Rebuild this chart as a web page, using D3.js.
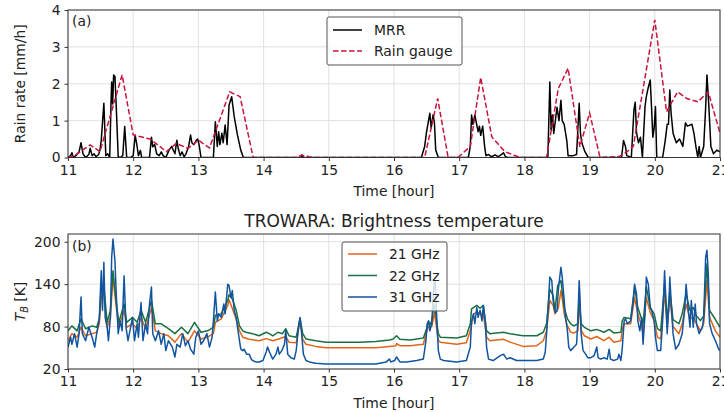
<!DOCTYPE html>
<html>
<head>
<meta charset="utf-8">
<script src="https://cdn.jsdelivr.net/npm/d3@7"></script>
<style>
  html, body { margin: 0; padding: 0; background: #fff; }
  svg text { font-family: "DejaVu Sans", sans-serif; fill: #222; }
</style>
</head>
<body>
<svg id="chart" width="724" height="412"></svg>
<script>
// Rain rate [mm/h] vs time [hour]
const mrrRate = [
  [11.00,0],[11.04,0.05],[11.06,0.13],[11.08,0],[11.12,0.05],[11.17,0.15],[11.20,0.4],[11.23,0.1],[11.27,0],
  [11.32,0.08],[11.34,0.25],[11.37,0.05],[11.40,0.1],[11.43,0.02],[11.47,0.08],[11.49,0.2],[11.51,0.47],
  [11.55,1.47],[11.58,0.05],[11.61,0.1],[11.64,0],[11.66,1.5],[11.67,2.05],[11.685,1.45],[11.70,2.24],
  [11.72,2.2],[11.74,1.38],[11.77,0.02],[11.80,0],[11.84,0.05],[11.87,0.84],[11.90,0],[11.96,0],[12.00,0.05],
  [12.03,0.61],[12.06,0.3],[12.08,0.05],[12.11,0.19],[12.13,0],[12.25,0],[12.28,0.55],[12.30,0.29],[12.33,0.35],
  [12.36,0.1],[12.40,0.05],[12.43,0.15],[12.46,0.05],[12.50,0],[12.55,0.2],[12.59,0.3],[12.64,0.1],[12.67,0.47],
  [12.69,0.25],[12.72,0.05],[12.75,0.15],[12.78,0.02],[12.81,0.1],[12.85,0.3],[12.88,0.61],[12.90,0.4],
  [12.93,0.35],[12.97,0.47],[12.99,0.5],[13.01,0.35],[13.04,0],[13.23,0],[13.26,0.97],[13.29,0.3],[13.31,0.7],
  [13.33,0.35],[13.36,0.66],[13.38,0.4],[13.41,0.88],[13.44,0.35],[13.47,1.42],[13.51,1.65],[13.55,1.1],
  [13.60,0.6],[13.65,0.2],[13.69,0],[14.57,0],[14.59,0.07],[14.61,0],[16.42,0],[16.47,0.3],[16.50,0.7],
  [16.55,1.2],[16.57,0.8],[16.60,1.16],[16.62,0.94],[16.64,0.2],[16.68,0],[17.14,0],[17.17,0.3],[17.19,1.15],
  [17.21,0.9],[17.24,1.15],[17.26,0.97],[17.29,0.7],[17.31,0.85],[17.33,0.6],[17.36,0.85],[17.39,0.3],
  [17.41,0.05],[17.45,0.08],[17.50,0.02],[17.55,0.07],[17.60,0.02],[17.66,0.1],[17.68,0.13],[17.71,0.02],
  [17.75,0],[18.36,0],[18.39,2.05],[18.41,0.75],[18.43,1.15],[18.45,0.65],[18.50,1.36],[18.53,1.0],[18.56,1.55],
  [18.58,1.0],[18.61,0.9],[18.65,0.46],[18.67,0.05],[18.75,0.05],[18.80,0.08],[18.84,1.47],[18.86,0.66],
  [18.88,0.4],[18.93,0.15],[18.98,0],[19.49,0],[19.52,0.46],[19.55,0.3],[19.57,0.05],[19.64,0],[19.68,1.29],
  [19.70,1.5],[19.72,0.66],[19.75,0.4],[19.78,0.55],[19.81,0],[19.85,1.38],[19.87,1.65],[19.90,1.9],[19.93,2.1],
  [19.95,1.36],[19.97,0.55],[19.99,0.8],[20.01,1.38],[20.03,0],[20.12,0],[20.16,0.46],[20.19,0.9],[20.21,0.9],
  [20.23,1.83],[20.25,1.2],[20.28,0.66],[20.33,0.4],[20.38,0.5],[20.43,0.3],[20.47,0.94],[20.50,0.85],
  [20.57,0.9],[20.60,0.66],[20.63,0.3],[20.66,0],[20.68,0.3],[20.70,0],[20.75,0.3],[20.78,1.36],[20.80,2.24],
  [20.83,1.36],[20.86,0.3],[20.90,0.1],[20.95,0.2],[21.00,0.15]
];

const gaugeRate = [
  [11.00,0],[11.10,0.05],[11.34,0.34],[11.49,0.16],[11.83,2.24],[12.00,0.61],[12.26,0.5],[12.51,0.16],
  [12.66,0.38],[12.84,0.25],[13.00,0.47],[13.17,0.26],[13.48,1.78],[13.64,1.65],[13.84,0],[14.50,0],
  [14.58,0.06],[14.66,0.04],[14.72,0.01],[14.80,0],[16.47,0],[16.67,1.6],[16.83,0],[16.98,0],[17.17,0.3],
  [17.33,2.17],[17.50,0.56],[17.70,0.16],[17.93,0],[18.34,0],[18.52,1.87],[18.67,2.42],[18.85,0.29],
  [19.00,1.21],[19.16,0],[19.46,0.03],[19.57,0.15],[19.67,0.3],[20.00,3.73],[20.18,1.24],[20.35,1.78],
  [20.49,1.6],[20.66,1.51],[20.82,1.78],[21.00,0.66]
];

// Brightness temperature [K] vs time [hour]
const tb21 = [
  [11.00,60],[11.06,70],[11.14,65],[11.20,79],[11.27,67],[11.37,70],[11.44,72],[11.48,84],[11.51,122],
  [11.55,126],[11.60,79],[11.65,93],[11.69,150],[11.74,107],[11.78,79],[11.86,103],[11.90,79],[11.99,84],
  [12.06,77],[12.12,93],[12.19,77],[12.28,107],[12.34,74],[12.43,70],[12.54,67],[12.64,58],[12.74,70],
  [12.84,58],[12.94,74],[13.04,62.5],[13.14,65],[13.23,70],[13.26,86],[13.35,91],[13.45,110],[13.47,118],
  [13.52,106],[13.58,90],[13.63,74],[13.68,65],[13.78,62],[13.93,60],[14.04,63],[14.14,60],[14.22,62],
  [14.34,66],[14.39,58],[14.50,57],[14.56,88],[14.60,62],[14.65,55],[14.80,52],[14.96,50],[15.21,50],
  [15.47,50],[15.72,50],[15.93,52],[16.03,53],[16.04,56],[16.09,53],[16.25,53],[16.45,55],[16.49,70],
  [16.53,80],[16.58,80],[16.62,100],[16.65,80],[16.68,60],[16.71,58],[16.96,55],[17.11,57],[17.17,74],
  [17.22,98],[17.27,100],[17.37,98],[17.42,65],[17.47,60],[17.57,61],[17.68,62],[17.78,58],[17.98,52],
  [18.19,53],[18.29,60],[18.34,74],[18.39,117],[18.44,110],[18.47,98],[18.52,106],[18.56,131],[18.58,120],
  [18.61,98],[18.66,81],[18.71,72],[18.76,71],[18.82,74],[18.84,117],[18.87,75],[18.92,67],[19.02,62.5],
  [19.11,66],[19.22,60],[19.30,65],[19.37,58],[19.48,60],[19.50,76],[19.53,84],[19.63,84],[19.69,121],
  [19.74,98],[19.80,80],[19.82,70],[19.87,121],[19.93,100],[19.99,88],[20.04,65],[20.09,62.5],[20.15,128],
  [20.19,80],[20.23,120],[20.28,80],[20.37,70],[20.42,84],[20.48,112],[20.54,91],[20.59,93],[20.64,84],
  [20.70,74],[20.75,84],[20.80,145],[20.84,93],[20.93,74],[21.00,65]
];

const tb22 = [
  [11.00,74],[11.06,81],[11.14,74],[11.20,91],[11.27,77],[11.37,81],[11.44,79],[11.48,91],[11.51,136],
  [11.55,138],[11.60,86],[11.65,103],[11.69,159],[11.74,114],[11.78,86],[11.86,112],[11.90,86],[11.99,93],
  [12.06,86],[12.12,103],[12.19,86],[12.28,117],[12.34,84],[12.43,84],[12.54,77],[12.64,70],[12.74,79],
  [12.84,70],[12.94,86],[13.04,72],[13.14,74],[13.23,79],[13.26,96],[13.35,98],[13.45,117],[13.47,125],
  [13.52,119],[13.58,103],[13.63,81],[13.68,74],[13.73,72],[13.83,70],[13.93,67],[14.04,72],[14.09,70],
  [14.14,67],[14.22,72],[14.29,70],[14.34,77],[14.39,67],[14.50,65],[14.56,91],[14.60,70],[14.65,62.5],
  [14.80,60],[14.96,58],[15.21,58],[15.47,58],[15.72,59],[15.93,61],[15.98,62],[16.04,67],[16.09,62],
  [16.25,61],[16.45,64],[16.49,74],[16.53,88],[16.55,82],[16.58,88],[16.60,103],[16.62,112],[16.65,90],
  [16.68,70],[16.71,65],[16.96,64],[17.11,67],[17.17,84],[17.19,105],[17.27,110],[17.32,106],[17.37,110],
  [17.42,74],[17.47,70],[17.57,71],[17.68,72],[17.78,70],[17.98,67],[18.19,67],[18.29,72],[18.34,84],
  [18.39,133],[18.44,124],[18.47,103],[18.51,138],[18.56,145],[18.58,130],[18.61,107],[18.66,91],[18.71,84],
  [18.76,81],[18.82,84],[18.84,126],[18.87,84],[18.92,79],[19.02,74],[19.11,76],[19.22,72],[19.30,76],
  [19.37,71],[19.48,72],[19.50,88],[19.53,93],[19.63,91],[19.69,136],[19.74,107],[19.80,90],[19.82,84],
  [19.87,136],[19.93,107],[19.99,98],[20.04,77],[20.09,74],[20.15,140],[20.19,90],[20.23,131],[20.28,90],
  [20.37,84],[20.42,98],[20.48,126],[20.54,103],[20.59,107],[20.64,95],[20.70,88.5],[20.75,95],[20.80,169],
  [20.84,103],[20.93,90],[21.00,79]
];

const tb31 = [
  [11.00,51],[11.04,65],[11.06,55],[11.10,70],[11.14,51],[11.17,70],[11.20,122],[11.22,70],[11.27,60],
  [11.32,79],[11.37,65],[11.41,51],[11.44,70],[11.48,91],[11.51,159],[11.53,103],[11.55,171],[11.57,93],
  [11.60,79],[11.62,60],[11.65,93],[11.67,178],[11.69,204],[11.72,173],[11.74,126],[11.77,70],[11.80,88],
  [11.83,74],[11.86,152],[11.89,79],[11.92,60],[11.96,79],[11.99,93],[12.02,60],[12.06,84],[12.08,65],
  [12.12,114],[12.15,60],[12.19,84],[12.22,70],[12.25,112],[12.28,136],[12.30,70],[12.34,60],[12.39,74],
  [12.43,55],[12.47,70],[12.50,46],[12.54,60],[12.60,51],[12.64,37],[12.67,55],[12.72,51],[12.76,70],
  [12.80,53],[12.84,60],[12.88,48],[12.93,41],[12.96,65],[13.00,74],[13.04,55],[13.08,60],[13.13,70],
  [13.17,51],[13.21,65],[13.23,88],[13.26,129],[13.29,88],[13.31,98],[13.35,93],[13.39,112],[13.41,98],
  [13.45,140],[13.47,138],[13.50,121],[13.52,131],[13.55,103],[13.58,93],[13.60,79],[13.63,60],[13.65,48],
  [13.68,46],[13.70,48],[13.74,41],[13.78,41],[13.81,34],[13.83,32],[13.88,30],[13.93,30],[13.99,32],
  [14.04,44],[14.06,51],[14.09,44],[14.14,34],[14.19,41],[14.22,51],[14.24,41],[14.28,46],[14.32,55],
  [14.34,75],[14.37,41],[14.42,36],[14.47,34],[14.50,46],[14.54,84],[14.56,93],[14.58,74],[14.61,41],
  [14.65,32],[14.70,30],[14.80,28],[14.96,27],[15.21,27],[15.47,27],[15.72,27],[15.88,30],[15.93,34],
  [15.95,30],[16.01,32],[16.04,37],[16.09,30],[16.19,30],[16.35,32],[16.45,34],[16.49,60],[16.51,84],
  [16.53,88],[16.55,74],[16.58,84],[16.60,122],[16.62,145],[16.63,145],[16.65,103],[16.68,46],[16.71,34],
  [16.76,32],[16.96,30],[17.11,32],[17.17,51],[17.19,88],[17.22,98],[17.24,84],[17.27,107],[17.29,93],
  [17.32,103],[17.35,88],[17.37,110],[17.40,88],[17.42,51],[17.45,34],[17.52,32],[17.63,39],[17.68,41],
  [17.73,34],[17.78,36],[17.88,32],[17.98,32],[18.19,32],[18.29,34],[18.32,44],[18.34,70],[18.37,117],
  [18.39,150],[18.42,145],[18.44,117],[18.47,100],[18.50,102],[18.52,131],[18.53,140],[18.56,164],
  [18.58,150],[18.61,117],[18.63,93],[18.66,74],[18.68,51],[18.71,46],[18.76,51],[18.80,55],[18.82,88],
  [18.84,145],[18.85,126],[18.87,70],[18.90,46],[18.94,41],[18.97,36],[19.02,36],[19.07,39],[19.11,51],
  [19.13,36],[19.17,34],[19.22,36],[19.27,34],[19.30,48],[19.32,34],[19.37,32],[19.43,34],[19.45,41],
  [19.48,32],[19.50,48],[19.53,88],[19.55,91],[19.58,84],[19.63,88],[19.67,117],[19.69,140],[19.72,126],
  [19.74,88],[19.77,74],[19.80,93],[19.82,55],[19.85,98],[19.87,150],[19.90,140],[19.93,107],[19.95,103],
  [19.99,88],[20.01,65],[20.04,46],[20.09,46],[20.12,88],[20.15,159],[20.17,117],[20.19,70],[20.22,117],
  [20.23,150],[20.25,117],[20.28,70],[20.32,48],[20.37,55],[20.42,70],[20.46,107],[20.48,140],[20.51,107],
  [20.54,79],[20.56,117],[20.59,79],[20.62,112],[20.64,84],[20.68,70],[20.70,74],[20.73,79],[20.75,93],
  [20.78,178],[20.80,188],[20.82,155],[20.84,84],[20.88,70],[20.93,60],[20.98,48],[21.00,46]
];

const hourTicks = [11, 12, 13, 14, 15, 16, 17, 18, 19, 20, 21];
const rainTicks = [0, 1, 2, 3, 4];
const tbTicks = [20, 80, 140, 200];

const svg = d3.select("#chart");
const left = 68, right = 720;
const FS = 13.9;

const x = d3.scaleLinear().domain([11, 21]).range([left, right]);
const yRain = d3.scaleLinear().domain([0, 4]).range([157.5, 10]);
const yTb = d3.scaleLinear().domain([20, 211]).range([369, 234]);

const drawPanel = (g, y, yTicks, id) => {
  const [y0, y1] = y.range();
  g.append("clipPath").attr("id", id)
    .append("rect").attr("x", left).attr("y", y1).attr("width", right - left).attr("height", y0 - y1);

  // grid
  g.append("g").selectAll("line").data(hourTicks).join("line")
    .attr("x1", d => x(d)).attr("x2", d => x(d)).attr("y1", y1).attr("y2", y0)
    .attr("stroke", "#dedede").attr("stroke-width", 0.9);
  g.append("g").selectAll("line").data(yTicks).join("line")
    .attr("x1", left).attr("x2", right).attr("y1", d => y(d)).attr("y2", d => y(d))
    .attr("stroke", "#dedede").attr("stroke-width", 0.9);

  // axes
  const xa = g.append("g").attr("transform", `translate(0,${y0})`)
    .call(d3.axisBottom(x).tickValues(hourTicks).tickFormat(d3.format("d")).tickSize(3.5).tickPadding(4));
  const ya = g.append("g").attr("transform", `translate(${left},0)`)
    .call(d3.axisLeft(y).tickValues(yTicks).tickFormat(d3.format("d")).tickSize(3.5).tickPadding(4));
  [xa, ya].forEach(a => {
    a.select(".domain").remove();
    a.selectAll("line").attr("stroke", "#333");
    a.selectAll("text").attr("font-size", FS).attr("fill", "#222")
      .attr("font-family", "DejaVu Sans, sans-serif");
  });
};

const topG = svg.append("g");
drawPanel(topG, yRain, rainTicks, "clipTop");
const botG = svg.append("g");
drawPanel(botG, yTb, tbTicks, "clipBot");

const lineOf = (y) => d3.line().x(d => x(d[0])).y(d => y(d[1]));

// top panel lines
const topLines = topG.append("g").attr("clip-path", "url(#clipTop)");
topLines.append("path").datum(mrrRate)
  .attr("d", lineOf(yRain)).attr("fill", "none").attr("stroke", "#000")
  .attr("stroke-width", 1.5).attr("stroke-linejoin", "round");
topLines.append("path").datum(gaugeRate)
  .attr("d", lineOf(yRain)).attr("fill", "none").attr("stroke", "#c8143c")
  .attr("stroke-width", 1.5).attr("stroke-dasharray", "5.5,2.5");

// bottom panel lines
const tbColors = ["#e0661a", "#1a7040", "#1155a0"];
const botLines = botG.append("g").attr("clip-path", "url(#clipBot)");
[tb21, tb22, tb31].forEach((s, i) => {
  botLines.append("path").datum(s)
    .attr("d", lineOf(yTb)).attr("fill", "none").attr("stroke", tbColors[i])
    .attr("stroke-width", 1.5).attr("stroke-linejoin", "round");
});

// frames
[[yRain, topG], [yTb, botG]].forEach(([y, g]) => {
  const [y0, y1] = y.range();
  g.append("rect").attr("x", left).attr("y", y1).attr("width", right - left).attr("height", y0 - y1)
    .attr("fill", "none").attr("stroke", "#333").attr("stroke-width", 1);
});

// labels
svg.append("text").attr("x", (left + right) / 2).attr("y", 196).attr("text-anchor", "middle")
  .attr("font-size", FS).text("Time [hour]");
svg.append("text").attr("x", (left + right) / 2).attr("y", 407.5).attr("text-anchor", "middle")
  .attr("font-size", FS).text("Time [hour]");
svg.append("text").attr("x", (left + right) / 2).attr("y", 227).attr("text-anchor", "middle")
  .attr("font-size", 17).text("TROWARA: Brightness temperature");
svg.append("text").attr("transform", `translate(25,${(10 + 157.5) / 2}) rotate(-90)`)
  .attr("text-anchor", "middle").attr("font-size", FS).text("Rain rate [mm/h]");
const tbLab = svg.append("text").attr("transform", `translate(25,${(234 + 369) / 2}) rotate(-90)`)
  .attr("text-anchor", "middle").attr("font-size", FS);
tbLab.append("tspan").attr("font-style", "italic").text("T");
tbLab.append("tspan").attr("font-style", "italic").attr("font-size", FS * 0.7).attr("dy", 3).text("B");
tbLab.append("tspan").attr("dy", -3).text(" [K]");
svg.append("text").attr("x", 72).attr("y", 26).attr("font-size", FS).text("(a)");
svg.append("text").attr("x", 72).attr("y", 251).attr("font-size", FS).text("(b)");

// legends
const legend = (g, bx, by, bw, bh, items) => {
  g.append("rect").attr("x", bx).attr("y", by).attr("width", bw).attr("height", bh).attr("rx", 2)
    .attr("fill", "#fff").attr("fill-opacity", 0.8).attr("stroke", "#555").attr("stroke-width", 1);
  items.forEach((it) => {
    const yy = it.y;
    g.append("line").attr("x1", bx + 6).attr("x2", bx + 35).attr("y1", yy).attr("y2", yy)
      .attr("stroke", it.color).attr("stroke-width", 1.5)
      .attr("stroke-dasharray", it.dash || null);
    g.append("text").attr("x", bx + 47).attr("y", yy + 5).attr("font-size", FS).text(it.label);
  });
};
legend(topG, 327, 17, 135, 48, [
  { label: "MRR", color: "#000", y: 30 },
  { label: "Rain gauge", color: "#c8143c", dash: "5.5,2.5", y: 51 }
]);
legend(botG, 342, 242, 105, 69, [
  { label: "21 GHz", color: tbColors[0], y: 254 },
  { label: "22 GHz", color: tbColors[1], y: 275.5 },
  { label: "31 GHz", color: tbColors[2], y: 297 }
]);
</script>
</body>
</html>
